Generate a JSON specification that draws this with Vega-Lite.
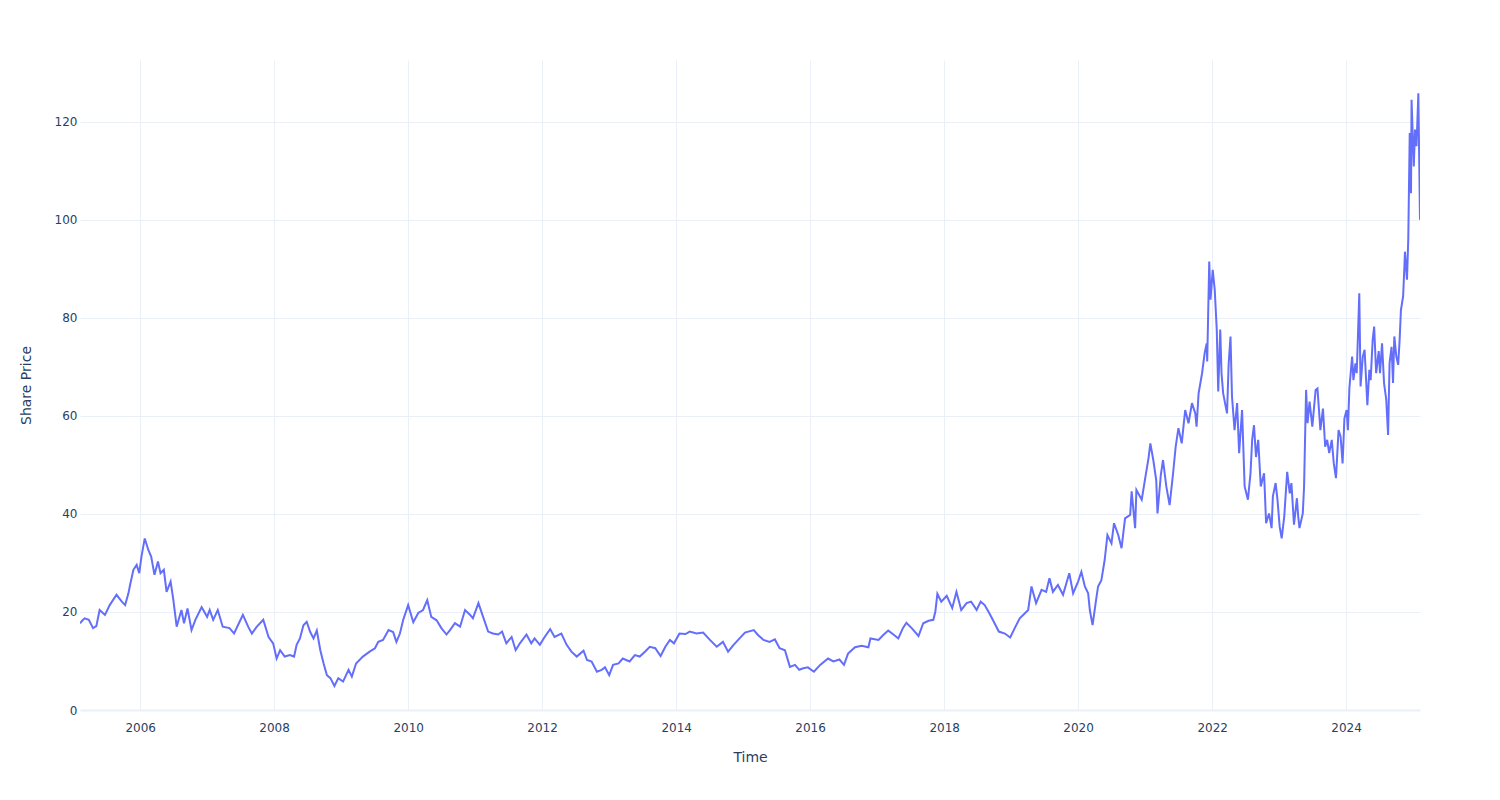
{
  "$schema": "https://vega.github.io/schema/vega-lite/v6.json",
  "width": 1340,
  "height": 650,
  "autosize": {"type": "none"},
  "padding": {"left": 80, "top": 60, "right": 80, "bottom": 90},
  "background": "white",
  "config": {"view": {"stroke": null}, "font": "DejaVu Sans"},
  "data": {"values": [
    {"date": "2005-02-07", "price": 17.7},
    {"date": "2005-02-21", "price": 18.3},
    {"date": "2005-03-05", "price": 18.7},
    {"date": "2005-03-27", "price": 18.4},
    {"date": "2005-04-19", "price": 16.7},
    {"date": "2005-05-07", "price": 17.1},
    {"date": "2005-05-25", "price": 20.4},
    {"date": "2005-06-23", "price": 19.4},
    {"date": "2005-07-19", "price": 21.4},
    {"date": "2005-08-25", "price": 23.5},
    {"date": "2005-09-23", "price": 22.1},
    {"date": "2005-10-11", "price": 21.4},
    {"date": "2005-10-29", "price": 23.8},
    {"date": "2005-11-07", "price": 25.5},
    {"date": "2005-11-25", "price": 28.6},
    {"date": "2005-12-13", "price": 29.6},
    {"date": "2005-12-27", "price": 27.9},
    {"date": "2006-01-08", "price": 31.3},
    {"date": "2006-01-26", "price": 35.0},
    {"date": "2006-02-14", "price": 32.7},
    {"date": "2006-03-02", "price": 31.3},
    {"date": "2006-03-20", "price": 27.6},
    {"date": "2006-04-08", "price": 30.3},
    {"date": "2006-04-22", "price": 27.9},
    {"date": "2006-05-10", "price": 28.6},
    {"date": "2006-05-25", "price": 24.1},
    {"date": "2006-06-16", "price": 26.2},
    {"date": "2006-07-01", "price": 22.4},
    {"date": "2006-07-19", "price": 17.0},
    {"date": "2006-08-14", "price": 20.4},
    {"date": "2006-08-28", "price": 17.7},
    {"date": "2006-09-16", "price": 20.7},
    {"date": "2006-10-08", "price": 16.3},
    {"date": "2006-10-29", "price": 18.4},
    {"date": "2006-12-02", "price": 21.0},
    {"date": "2007-01-01", "price": 19.0},
    {"date": "2007-01-15", "price": 20.4},
    {"date": "2007-02-03", "price": 18.4},
    {"date": "2007-02-28", "price": 20.4},
    {"date": "2007-03-27", "price": 17.0},
    {"date": "2007-05-03", "price": 16.7},
    {"date": "2007-05-28", "price": 15.6},
    {"date": "2007-06-27", "price": 18.0},
    {"date": "2007-07-15", "price": 19.4},
    {"date": "2007-08-14", "price": 16.9},
    {"date": "2007-09-02", "price": 15.6},
    {"date": "2007-09-27", "price": 16.9},
    {"date": "2007-11-03", "price": 18.4},
    {"date": "2007-12-02", "price": 14.9},
    {"date": "2007-12-27", "price": 13.6},
    {"date": "2008-01-15", "price": 10.5},
    {"date": "2008-02-03", "price": 12.2},
    {"date": "2008-02-28", "price": 10.9},
    {"date": "2008-03-27", "price": 11.2},
    {"date": "2008-04-19", "price": 10.9},
    {"date": "2008-05-03", "price": 13.3},
    {"date": "2008-05-21", "price": 14.6},
    {"date": "2008-06-09", "price": 17.3},
    {"date": "2008-06-27", "price": 18.0},
    {"date": "2008-07-15", "price": 16.0},
    {"date": "2008-08-03", "price": 14.6},
    {"date": "2008-08-21", "price": 16.2},
    {"date": "2008-09-09", "price": 12.2},
    {"date": "2008-09-27", "price": 9.5},
    {"date": "2008-10-15", "price": 7.1},
    {"date": "2008-11-03", "price": 6.5},
    {"date": "2008-11-25", "price": 4.9},
    {"date": "2008-12-16", "price": 6.5},
    {"date": "2009-01-11", "price": 5.8},
    {"date": "2009-02-10", "price": 8.2},
    {"date": "2009-02-28", "price": 6.8},
    {"date": "2009-03-23", "price": 9.5},
    {"date": "2009-04-29", "price": 10.9},
    {"date": "2009-06-05", "price": 11.9},
    {"date": "2009-07-04", "price": 12.6},
    {"date": "2009-07-22", "price": 13.9},
    {"date": "2009-08-17", "price": 14.3},
    {"date": "2009-09-16", "price": 16.3},
    {"date": "2009-10-11", "price": 15.9},
    {"date": "2009-10-29", "price": 13.9},
    {"date": "2009-11-17", "price": 15.6},
    {"date": "2009-12-05", "price": 18.4},
    {"date": "2010-01-01", "price": 21.4},
    {"date": "2010-01-29", "price": 17.9},
    {"date": "2010-02-25", "price": 19.8},
    {"date": "2010-03-23", "price": 20.4},
    {"date": "2010-04-15", "price": 22.4},
    {"date": "2010-05-07", "price": 19.0},
    {"date": "2010-06-05", "price": 18.3},
    {"date": "2010-07-01", "price": 16.7},
    {"date": "2010-07-29", "price": 15.4},
    {"date": "2010-08-17", "price": 16.3},
    {"date": "2010-09-13", "price": 17.7},
    {"date": "2010-10-11", "price": 17.0},
    {"date": "2010-11-07", "price": 20.4},
    {"date": "2010-12-05", "price": 19.4},
    {"date": "2010-12-20", "price": 18.7},
    {"date": "2011-01-19", "price": 21.8},
    {"date": "2011-02-07", "price": 19.7},
    {"date": "2011-03-13", "price": 16.0},
    {"date": "2011-04-08", "price": 15.6},
    {"date": "2011-05-07", "price": 15.4},
    {"date": "2011-05-28", "price": 16.0},
    {"date": "2011-06-20", "price": 13.6},
    {"date": "2011-07-19", "price": 14.9},
    {"date": "2011-08-10", "price": 12.2},
    {"date": "2011-09-02", "price": 13.6},
    {"date": "2011-10-08", "price": 15.4},
    {"date": "2011-11-03", "price": 13.6},
    {"date": "2011-11-21", "price": 14.6},
    {"date": "2011-12-20", "price": 13.3},
    {"date": "2012-01-15", "price": 14.9},
    {"date": "2012-02-14", "price": 16.5},
    {"date": "2012-03-09", "price": 14.9},
    {"date": "2012-04-15", "price": 15.6},
    {"date": "2012-05-14", "price": 13.3},
    {"date": "2012-06-09", "price": 11.9},
    {"date": "2012-07-08", "price": 10.9},
    {"date": "2012-08-14", "price": 12.1},
    {"date": "2012-09-02", "price": 10.2},
    {"date": "2012-09-27", "price": 9.9},
    {"date": "2012-10-26", "price": 7.8},
    {"date": "2012-11-21", "price": 8.2},
    {"date": "2012-12-09", "price": 8.7},
    {"date": "2013-01-01", "price": 7.1},
    {"date": "2013-01-22", "price": 9.2},
    {"date": "2013-02-21", "price": 9.5},
    {"date": "2013-03-16", "price": 10.5},
    {"date": "2013-04-22", "price": 9.9},
    {"date": "2013-05-21", "price": 11.2},
    {"date": "2013-06-16", "price": 10.9},
    {"date": "2013-07-15", "price": 11.9},
    {"date": "2013-08-10", "price": 12.9},
    {"date": "2013-09-09", "price": 12.6},
    {"date": "2013-10-08", "price": 11.0},
    {"date": "2013-11-03", "price": 12.9},
    {"date": "2013-11-28", "price": 14.3},
    {"date": "2013-12-20", "price": 13.6},
    {"date": "2014-01-19", "price": 15.6},
    {"date": "2014-02-21", "price": 15.5},
    {"date": "2014-03-16", "price": 16.0},
    {"date": "2014-04-22", "price": 15.6},
    {"date": "2014-05-28", "price": 15.8},
    {"date": "2014-07-04", "price": 14.3},
    {"date": "2014-08-10", "price": 12.9},
    {"date": "2014-09-13", "price": 13.9},
    {"date": "2014-10-11", "price": 11.9},
    {"date": "2014-11-10", "price": 13.3},
    {"date": "2014-12-05", "price": 14.3},
    {"date": "2015-01-11", "price": 15.8},
    {"date": "2015-02-28", "price": 16.3},
    {"date": "2015-03-23", "price": 15.3},
    {"date": "2015-04-22", "price": 14.3},
    {"date": "2015-05-25", "price": 13.9},
    {"date": "2015-06-23", "price": 14.4},
    {"date": "2015-07-19", "price": 12.6},
    {"date": "2015-08-17", "price": 12.2},
    {"date": "2015-09-13", "price": 8.8},
    {"date": "2015-10-11", "price": 9.2},
    {"date": "2015-11-03", "price": 8.2},
    {"date": "2015-11-25", "price": 8.5},
    {"date": "2015-12-20", "price": 8.7},
    {"date": "2016-01-22", "price": 7.8},
    {"date": "2016-02-25", "price": 9.2},
    {"date": "2016-04-08", "price": 10.5},
    {"date": "2016-05-07", "price": 9.9},
    {"date": "2016-06-09", "price": 10.3},
    {"date": "2016-07-04", "price": 9.2},
    {"date": "2016-07-26", "price": 11.5},
    {"date": "2016-09-02", "price": 12.8},
    {"date": "2016-10-08", "price": 13.1},
    {"date": "2016-11-14", "price": 12.8},
    {"date": "2016-11-25", "price": 14.6},
    {"date": "2017-01-08", "price": 14.3},
    {"date": "2017-02-03", "price": 15.3},
    {"date": "2017-03-02", "price": 16.2},
    {"date": "2017-03-27", "price": 15.5},
    {"date": "2017-04-26", "price": 14.6},
    {"date": "2017-05-21", "price": 16.7},
    {"date": "2017-06-09", "price": 17.8},
    {"date": "2017-07-08", "price": 16.7},
    {"date": "2017-08-14", "price": 15.1},
    {"date": "2017-09-09", "price": 17.7},
    {"date": "2017-10-08", "price": 18.2},
    {"date": "2017-11-03", "price": 18.4},
    {"date": "2017-11-14", "price": 20.1},
    {"date": "2017-11-25", "price": 23.7},
    {"date": "2017-12-16", "price": 22.1},
    {"date": "2018-01-15", "price": 23.3},
    {"date": "2018-02-14", "price": 20.8},
    {"date": "2018-03-09", "price": 24.1},
    {"date": "2018-04-04", "price": 20.4},
    {"date": "2018-05-03", "price": 21.8},
    {"date": "2018-05-28", "price": 22.1},
    {"date": "2018-06-27", "price": 20.4},
    {"date": "2018-07-19", "price": 22.1},
    {"date": "2018-08-10", "price": 21.4},
    {"date": "2018-09-05", "price": 19.7},
    {"date": "2018-09-23", "price": 18.4},
    {"date": "2018-10-26", "price": 16.0},
    {"date": "2018-11-28", "price": 15.6},
    {"date": "2018-12-27", "price": 14.8},
    {"date": "2019-01-22", "price": 16.8},
    {"date": "2019-02-17", "price": 18.7},
    {"date": "2019-03-16", "price": 19.7},
    {"date": "2019-04-04", "price": 20.4},
    {"date": "2019-04-22", "price": 25.2},
    {"date": "2019-05-17", "price": 21.8},
    {"date": "2019-06-16", "price": 24.5},
    {"date": "2019-07-11", "price": 24.1},
    {"date": "2019-07-29", "price": 26.9},
    {"date": "2019-08-17", "price": 24.1},
    {"date": "2019-09-13", "price": 25.5},
    {"date": "2019-10-11", "price": 23.5},
    {"date": "2019-11-14", "price": 27.9},
    {"date": "2019-12-05", "price": 23.8},
    {"date": "2020-01-01", "price": 26.2},
    {"date": "2020-01-19", "price": 28.2},
    {"date": "2020-02-07", "price": 25.2},
    {"date": "2020-02-25", "price": 23.8},
    {"date": "2020-03-05", "price": 20.4},
    {"date": "2020-03-20", "price": 17.3},
    {"date": "2020-04-08", "price": 22.4},
    {"date": "2020-04-19", "price": 25.2},
    {"date": "2020-05-07", "price": 26.5},
    {"date": "2020-05-25", "price": 30.6},
    {"date": "2020-06-09", "price": 35.7},
    {"date": "2020-07-01", "price": 34.0},
    {"date": "2020-07-15", "price": 38.1},
    {"date": "2020-08-07", "price": 35.7},
    {"date": "2020-08-25", "price": 33.0},
    {"date": "2020-09-13", "price": 39.1},
    {"date": "2020-10-11", "price": 39.8},
    {"date": "2020-10-19", "price": 44.6},
    {"date": "2020-11-07", "price": 37.1},
    {"date": "2020-11-14", "price": 44.9},
    {"date": "2020-12-13", "price": 42.9},
    {"date": "2021-01-01", "price": 47.3},
    {"date": "2021-01-19", "price": 51.4},
    {"date": "2021-01-29", "price": 54.4},
    {"date": "2021-02-14", "price": 51.0},
    {"date": "2021-03-02", "price": 46.9},
    {"date": "2021-03-09", "price": 40.1},
    {"date": "2021-03-27", "price": 47.9},
    {"date": "2021-04-08", "price": 51.0},
    {"date": "2021-04-26", "price": 45.6},
    {"date": "2021-05-14", "price": 41.8},
    {"date": "2021-06-02", "price": 48.3},
    {"date": "2021-06-16", "price": 53.7},
    {"date": "2021-07-01", "price": 57.5},
    {"date": "2021-07-19", "price": 54.4},
    {"date": "2021-08-07", "price": 61.2},
    {"date": "2021-08-25", "price": 58.5},
    {"date": "2021-09-13", "price": 62.6},
    {"date": "2021-10-01", "price": 60.5},
    {"date": "2021-10-08", "price": 57.8},
    {"date": "2021-10-19", "price": 64.6},
    {"date": "2021-11-07", "price": 68.7},
    {"date": "2021-11-21", "price": 72.8},
    {"date": "2021-12-02", "price": 74.8},
    {"date": "2021-12-05", "price": 71.1},
    {"date": "2021-12-16", "price": 91.5},
    {"date": "2021-12-23", "price": 83.7},
    {"date": "2022-01-04", "price": 89.8},
    {"date": "2022-01-15", "price": 85.7},
    {"date": "2022-01-26", "price": 77.6},
    {"date": "2022-02-03", "price": 65.0},
    {"date": "2022-02-14", "price": 77.6},
    {"date": "2022-02-21", "price": 68.7},
    {"date": "2022-03-02", "price": 64.6},
    {"date": "2022-03-23", "price": 60.5},
    {"date": "2022-04-01", "price": 70.7},
    {"date": "2022-04-11", "price": 76.2},
    {"date": "2022-04-19", "price": 64.0},
    {"date": "2022-05-03", "price": 57.1},
    {"date": "2022-05-17", "price": 62.6},
    {"date": "2022-05-28", "price": 52.4},
    {"date": "2022-06-13", "price": 61.2},
    {"date": "2022-06-27", "price": 45.6},
    {"date": "2022-07-15", "price": 42.9},
    {"date": "2022-07-29", "price": 48.3},
    {"date": "2022-08-07", "price": 55.1},
    {"date": "2022-08-17", "price": 58.1},
    {"date": "2022-08-28", "price": 51.6},
    {"date": "2022-09-09", "price": 55.1},
    {"date": "2022-09-23", "price": 45.6},
    {"date": "2022-10-11", "price": 48.3},
    {"date": "2022-10-22", "price": 38.1},
    {"date": "2022-11-07", "price": 40.1},
    {"date": "2022-11-21", "price": 37.1},
    {"date": "2022-11-28", "price": 43.6},
    {"date": "2022-12-13", "price": 46.3},
    {"date": "2022-12-23", "price": 42.9},
    {"date": "2023-01-04", "price": 37.4},
    {"date": "2023-01-15", "price": 35.0},
    {"date": "2023-01-29", "price": 39.5},
    {"date": "2023-02-14", "price": 48.6},
    {"date": "2023-02-28", "price": 44.2},
    {"date": "2023-03-09", "price": 46.3},
    {"date": "2023-03-23", "price": 37.8},
    {"date": "2023-04-08", "price": 43.2},
    {"date": "2023-04-15", "price": 39.5},
    {"date": "2023-04-22", "price": 37.1},
    {"date": "2023-05-10", "price": 40.1},
    {"date": "2023-05-17", "price": 45.6},
    {"date": "2023-05-28", "price": 65.3},
    {"date": "2023-06-05", "price": 58.5},
    {"date": "2023-06-16", "price": 62.9},
    {"date": "2023-07-01", "price": 57.8},
    {"date": "2023-07-19", "price": 65.3},
    {"date": "2023-07-29", "price": 65.6},
    {"date": "2023-08-14", "price": 57.1},
    {"date": "2023-08-28", "price": 61.5},
    {"date": "2023-09-09", "price": 53.7},
    {"date": "2023-09-20", "price": 55.1},
    {"date": "2023-10-01", "price": 52.4},
    {"date": "2023-10-15", "price": 55.1},
    {"date": "2023-10-26", "price": 50.3},
    {"date": "2023-11-07", "price": 47.3},
    {"date": "2023-11-21", "price": 57.1},
    {"date": "2023-12-02", "price": 55.8},
    {"date": "2023-12-13", "price": 50.3},
    {"date": "2023-12-23", "price": 59.5},
    {"date": "2024-01-04", "price": 61.2},
    {"date": "2024-01-11", "price": 57.1},
    {"date": "2024-01-19", "price": 65.6},
    {"date": "2024-02-03", "price": 72.1},
    {"date": "2024-02-10", "price": 67.3},
    {"date": "2024-02-21", "price": 70.7},
    {"date": "2024-02-28", "price": 68.7},
    {"date": "2024-03-05", "price": 75.5},
    {"date": "2024-03-13", "price": 85.0},
    {"date": "2024-03-20", "price": 66.0},
    {"date": "2024-04-01", "price": 72.1},
    {"date": "2024-04-11", "price": 73.5},
    {"date": "2024-04-26", "price": 62.2},
    {"date": "2024-05-07", "price": 69.4},
    {"date": "2024-05-14", "price": 67.3},
    {"date": "2024-05-25", "price": 75.5},
    {"date": "2024-06-02", "price": 78.2},
    {"date": "2024-06-13", "price": 68.7},
    {"date": "2024-06-27", "price": 73.2},
    {"date": "2024-07-04", "price": 68.7},
    {"date": "2024-07-15", "price": 74.8},
    {"date": "2024-07-26", "price": 66.7},
    {"date": "2024-08-07", "price": 63.3},
    {"date": "2024-08-17", "price": 56.1},
    {"date": "2024-08-25", "price": 70.7},
    {"date": "2024-09-05", "price": 74.1},
    {"date": "2024-09-13", "price": 66.7},
    {"date": "2024-09-20", "price": 76.2},
    {"date": "2024-10-01", "price": 72.1},
    {"date": "2024-10-11", "price": 70.4},
    {"date": "2024-10-19", "price": 75.5},
    {"date": "2024-10-26", "price": 81.6},
    {"date": "2024-11-07", "price": 84.4},
    {"date": "2024-11-14", "price": 90.5},
    {"date": "2024-11-17", "price": 93.5},
    {"date": "2024-11-28", "price": 87.8},
    {"date": "2024-12-05", "price": 95.9},
    {"date": "2024-12-13", "price": 117.7},
    {"date": "2024-12-20", "price": 105.4},
    {"date": "2024-12-23", "price": 124.5},
    {"date": "2025-01-04", "price": 110.9},
    {"date": "2025-01-11", "price": 118.4},
    {"date": "2025-01-19", "price": 115.0},
    {"date": "2025-01-29", "price": 125.8},
    {"date": "2025-02-07", "price": 100.0}
  ]},
  "mark": {"type": "line", "color": "#636efa", "strokeWidth": 2, "clip": true},
  "encoding": {
    "x": {
      "field": "date",
      "type": "temporal",
      "title": "Time",
      "scale": {"nice": false},
      "axis": {
        "values": [{"year": 2006}, {"year": 2008}, {"year": 2010}, {"year": 2012}, {"year": 2014}, {"year": 2016}, {"year": 2018}, {"year": 2020}, {"year": 2022}, {"year": 2024}],
        "format": "%Y",
        "labelFont": "DejaVu Sans",
        "labelFontSize": 12,
        "labelColor": "#2a3f5f",
        "labelPadding": 12,
        "ticks": false,
        "tickSize": 0,
        "grid": true,
        "gridColor": "#EBF0F8",
        "gridWidth": 1,
        "domain": true,
        "domainColor": "#EBF0F8",
        "domainWidth": 2,
        "titleFont": "DejaVu Sans",
        "titleFontSize": 14,
        "titleFontWeight": "normal",
        "titleColor": "#2a3f5f",
        "titlePadding": 17
      }
    },
    "y": {
      "field": "price",
      "type": "quantitative",
      "title": "Share Price",
      "scale": {"domain": [0, 132.6], "nice": false, "zero": true},
      "axis": {
        "values": [0, 20, 40, 60, 80, 100, 120],
        "labelFont": "DejaVu Sans",
        "labelFontSize": 12,
        "labelColor": "#2a3f5f",
        "labelPadding": 3,
        "ticks": false,
        "tickSize": 0,
        "domain": false,
        "grid": true,
        "gridColor": "#EBF0F8",
        "gridWidth": 1,
        "titleFont": "DejaVu Sans",
        "titleFontSize": 14,
        "titleFontWeight": "normal",
        "titleColor": "#2a3f5f",
        "titlePadding": 21
      }
    }
  }
}
